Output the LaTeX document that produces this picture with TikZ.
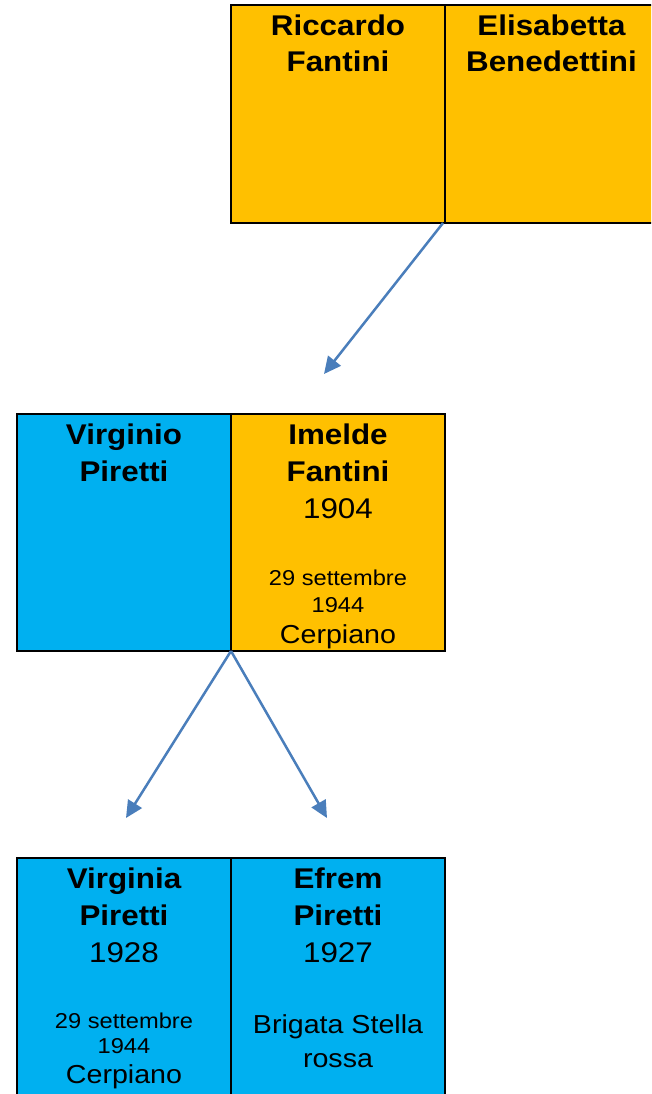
\documentclass[tikz,border=0pt]{standalone}
\usepackage{fontspec}
\setmainfont{Liberation Sans}[FakeStretch=1.1]
\usetikzlibrary{arrows.meta,calc}
\definecolor{gold}{RGB}{255,192,0}
\definecolor{sky}{RGB}{0,176,240}
\definecolor{arrowblue}{RGB}{74,126,187}
\tikzset{
 person/.style={draw=black, line width=2pt, rectangle, inner sep=0pt, outer sep=0pt, anchor=north west},
 pname/.style={anchor=base, inner sep=0pt, font=\fontsize{28.5}{34}\selectfont\bfseries},
 pyear/.style={anchor=base, inner sep=0pt, font=\fontsize{28.5}{34}\selectfont},
 psmall/.style={anchor=base, inner sep=0pt, font=\fontsize{21.5}{25}\selectfont},
 pplace/.style={anchor=base, inner sep=0pt, font=\fontsize{26}{30}\selectfont},
 link/.style={draw=arrowblue, line width=2.5pt, -{Triangle[length=17pt,width=16pt]}},
}
\begin{document}
\begin{tikzpicture}[x=1pt,y=-1pt]
\useasboundingbox (0,0) rectangle (651,1094);
\clip (0,0) rectangle (651,1094);
\fill[white] (0,0) rectangle (651,1094);
% boxes
\node[person, fill=gold, minimum width=214pt, minimum height=218pt] (rf) at (231,5) {};
\node[person, fill=gold, minimum width=213pt, minimum height=218pt] (eb) at (445,5) {};
\node[person, fill=sky, minimum width=214pt, minimum height=237pt] (vp) at (17,414) {};
\node[person, fill=gold, minimum width=214pt, minimum height=237pt] (imf) at (231,414) {};
\node[person, fill=sky, minimum width=214pt, minimum height=245pt] (vgp) at (17,858) {};
\node[person, fill=sky, minimum width=214pt, minimum height=245pt] (ep) at (231,858) {};
% texts top
\node[pname] (rf1) at (338,35.5) {Riccardo};
\node[pname] (rf2) at (338,72) {Fantini};
\node[pname] (eb1) at (551.5,35.5) {Elisabetta};
\node[pname] (eb2) at (551.5,72) {Benedettini};
% texts middle
\node[pname] (vp1) at (124,444) {Virginio};
\node[pname] (vp2) at (124,481) {Piretti};
\node[pname] (im1) at (338,444) {Imelde};
\node[pname] (im2) at (338,481) {Fantini};
\node[pyear] (im3) at (338,518) {1904};
\node[psmall] (im4) at (338,585) {29 settembre};
\node[psmall] (im5) at (338,612) {1944};
\node[pplace] (im6) at (338,643) {Cerpiano};
% texts bottom
\node[pname] (vg1) at (124,888) {Virginia};
\node[pname] (vg2) at (124,925) {Piretti};
\node[pyear] (vg3) at (124,962) {1928};
\node[psmall] (vg4) at (124,1028) {29 settembre};
\node[psmall] (vg5) at (124,1053) {1944};
\node[pplace] (vg6) at (124,1083) {Cerpiano};
\node[pname] (ef1) at (338,888) {Efrem};
\node[pname] (ef2) at (338,925) {Piretti};
\node[pyear] (ef3) at (338,962) {1927};
\node[pplace] (ef4) at (338,1033) {Brigata Stella};
\node[pplace] (ef5) at (338,1067) {rossa};
% connectors
\coordinate (a1) at (324,374);
\coordinate (a2) at (126,818);
\coordinate (a3) at (327,818);
\draw[link] ($(rf.south east)+(-2,0)$) -- (a1);
\draw[link] (vp.south east) -- (a2);
\draw[link] (vp.south east) -- (a3);
\end{tikzpicture}
\end{document}
